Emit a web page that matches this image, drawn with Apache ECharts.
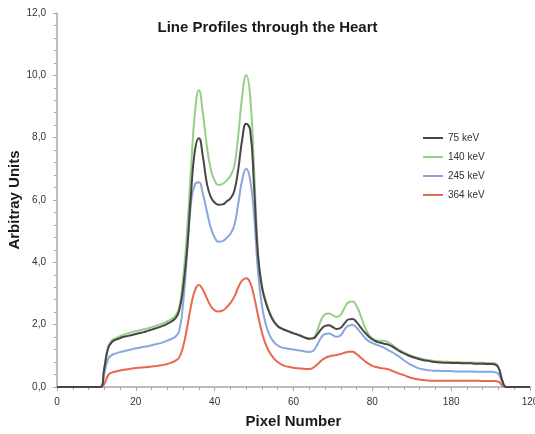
<!DOCTYPE html>
<html>
<head>
<meta charset="utf-8">
<script src="https://cdn.jsdelivr.net/npm/echarts@6/dist/echarts.min.js"></script>
<style>
  html, body { margin: 0; padding: 0; background: #fff; }
  #chart { width: 535px; height: 434px; }
</style>
</head>
<body>
<div id="chart"></div>
<script>
// Pixel positions sampled along the profile line
const pixels = [
  0,
  11, 12, 13, 14, 15, 16, 17, 18, 19, 20,
  21, 22, 23, 24, 25, 26, 27, 28, 29, 30,
  31, 32, 33, 34, 35, 36, 37, 38, 39, 40,
  41, 42, 43, 44, 45, 46, 47, 48, 49, 50,
  51, 52, 53, 54, 55, 56, 57, 58, 59, 60,
  61, 62, 63, 64, 65, 66, 67, 68, 69, 70,
  71, 72, 73, 74, 75, 76, 77, 78, 79, 80,
  81, 82, 83, 84, 85, 86, 87, 88, 89, 90,
  91, 92, 93, 94, 95, 96, 97, 98, 99, 100,
  101, 102, 103, 104, 105, 106, 107, 108, 109, 110,
  111, 112, 113, 114,
  120
];

const kev75 = [
  0,
  0, 0.6, 1.25, 1.45, 1.52, 1.57, 1.61, 1.64, 1.67, 1.70,
  1.73, 1.76, 1.80, 1.84, 1.88, 1.92, 1.97, 2.03, 2.10, 2.20,
  2.45, 3.2, 4.4, 6.2, 7.6, 7.98, 7.4, 6.55, 6.1, 5.92,
  5.85, 5.86, 5.95, 6.05, 6.3, 7.0, 7.95, 8.45, 8.25, 6.4,
  4.2, 3.2, 2.7, 2.35, 2.1, 1.95, 1.87, 1.82, 1.77, 1.72,
  1.68, 1.63, 1.58, 1.55, 1.56, 1.68, 1.85, 1.96, 1.98, 1.92,
  1.86, 1.9, 2.05, 2.17, 2.18, 2.08, 1.92, 1.76, 1.63, 1.53,
  1.46, 1.42, 1.39, 1.36, 1.3, 1.22, 1.14, 1.08, 1.02, 0.97,
  0.93, 0.89, 0.86, 0.84, 0.82, 0.8, 0.79, 0.78, 0.78, 0.77,
  0.77, 0.77, 0.76, 0.76, 0.76, 0.75, 0.75, 0.75, 0.74, 0.74,
  0.73, 0.62, 0.2, 0,
  0
];

const kev140 = [
  0,
  0, 0.62, 1.3, 1.5, 1.57, 1.63, 1.68, 1.72, 1.76, 1.79,
  1.82, 1.85, 1.88, 1.92, 1.96, 2.0, 2.05, 2.11, 2.18, 2.28,
  2.55, 3.5, 5.0, 7.0, 8.8, 9.52, 8.8, 7.75, 7.0, 6.62,
  6.48, 6.52, 6.62, 6.78, 7.1, 8.1, 9.35, 10.0, 9.35, 7.0,
  4.3, 3.25, 2.75, 2.38, 2.13, 1.97, 1.89, 1.83, 1.78, 1.73,
  1.69, 1.64, 1.59, 1.56, 1.58, 1.8, 2.15, 2.33, 2.36, 2.3,
  2.25, 2.32, 2.55, 2.72, 2.74, 2.6, 2.3, 1.95, 1.7, 1.56,
  1.5, 1.48, 1.48, 1.44, 1.35, 1.26, 1.18, 1.11, 1.05, 1.0,
  0.96, 0.92, 0.89, 0.87, 0.85, 0.83, 0.82, 0.81, 0.81, 0.8,
  0.8, 0.8, 0.79, 0.79, 0.79, 0.78, 0.78, 0.78, 0.77, 0.77,
  0.76, 0.64, 0.2, 0,
  0
];

const kev245 = [
  0,
  0, 0.45, 0.9, 1.03, 1.08, 1.12, 1.15, 1.18, 1.21, 1.24,
  1.26, 1.29, 1.31, 1.34, 1.37, 1.4, 1.44, 1.49, 1.54, 1.61,
  1.8, 2.7, 4.3, 5.9, 6.5, 6.57, 6.2, 5.65, 5.12, 4.8,
  4.66, 4.68, 4.78, 4.92, 5.2, 5.9, 6.65, 7.0, 6.65, 5.5,
  3.7, 2.6, 2.0, 1.65, 1.45, 1.33, 1.27, 1.24, 1.22, 1.2,
  1.18, 1.16, 1.14, 1.12, 1.16, 1.35, 1.58, 1.7, 1.72, 1.66,
  1.61, 1.66, 1.85, 1.97, 1.99, 1.9, 1.75, 1.6, 1.48, 1.41,
  1.36, 1.31, 1.26, 1.18, 1.12, 1.04, 0.96, 0.86, 0.77, 0.7,
  0.64, 0.59, 0.56, 0.54, 0.53, 0.52, 0.52, 0.51, 0.51, 0.51,
  0.5, 0.5, 0.5, 0.5, 0.5, 0.49, 0.49, 0.49, 0.49, 0.49,
  0.48, 0.42, 0.15, 0,
  0
];

const kev364 = [
  0,
  0, 0.1, 0.38, 0.47, 0.5, 0.53, 0.55, 0.57, 0.59, 0.61,
  0.62, 0.63, 0.64, 0.66, 0.67, 0.69, 0.71, 0.74, 0.78, 0.84,
  0.95, 1.3, 1.9, 2.6, 3.1, 3.27, 3.12, 2.85, 2.6, 2.46,
  2.42, 2.45, 2.55, 2.7, 2.9, 3.2, 3.42, 3.49, 3.35, 2.9,
  2.3, 1.75, 1.35, 1.1, 0.92, 0.8, 0.72, 0.67, 0.64, 0.62,
  0.6, 0.59, 0.58, 0.58, 0.62, 0.72, 0.84, 0.93, 0.98, 1.01,
  1.03, 1.06, 1.1, 1.13, 1.13, 1.06, 0.95, 0.84, 0.75, 0.68,
  0.64, 0.61, 0.59, 0.57, 0.52, 0.47, 0.42, 0.38, 0.33, 0.29,
  0.26, 0.24, 0.22, 0.21, 0.2, 0.2, 0.2, 0.2, 0.2, 0.2,
  0.2, 0.2, 0.2, 0.2, 0.2, 0.2, 0.2, 0.19, 0.19, 0.19,
  0.19, 0.17, 0.05, 0,
  0
];

const seriesNames = ['75 keV', '140 keV', '245 keV', '364 keV'];
const xTickLabels = ['0', '20', '40', '60', '80', '180', '120'];
const yTickLabels = ['0,0', '2,0', '4,0', '6,0', '8,0', '10,0', '12,0'];

const FONT = '"Liberation Sans", Arial, Helvetica, sans-serif';
const AXIS_COLOR = '#b3a3a3';

function pairs(ys) {
  return pixels.map((x, i) => [x, ys[i]]);
}

function lineSeries(name, ys, color, width, z) {
  return {
    name: name,
    type: 'line',
    data: pairs(ys),
    showSymbol: false,
    symbol: 'none',
    smooth: 0.5,
    z: z,
    lineStyle: { color: color, width: width },
    itemStyle: { color: color }
  };
}

const chart = echarts.init(document.getElementById('chart'), null, { renderer: 'canvas' });

chart.setOption({
  animation: false,
  backgroundColor: '#ffffff',
  textStyle: { fontFamily: FONT },
  title: {
    text: 'Line Profiles through the Heart',
    left: 'center',
    top: 15,
    textStyle: { fontFamily: FONT, fontSize: 15, fontWeight: 'bold', color: '#1a1a1a' }
  },
  legend: {
    orient: 'vertical',
    left: 418,
    top: 128,
    itemWidth: 20,
    itemHeight: 2,
    itemGap: 9,
    icon: 'rect',
    data: seriesNames,
    textStyle: { fontFamily: FONT, fontSize: 10, color: '#333' }
  },
  grid: { left: 57, right: 5, top: 13, bottom: 47, containLabel: false, outerBoundsMode: 'none' },
  xAxis: {
    type: 'value',
    min: 0,
    max: 120,
    interval: 20,
    name: 'Pixel Number',
    nameLocation: 'middle',
    nameGap: 27,
    nameMoveOverlap: false,
    nameTextStyle: { fontFamily: FONT, fontSize: 15, fontWeight: 'bold', color: '#1a1a1a' },
    axisLine: { show: true, lineStyle: { color: AXIS_COLOR, width: 1.5 } },
    axisTick: { show: true, length: 4, lineStyle: { color: AXIS_COLOR } },
    minorTick: { show: true, splitNumber: 5, length: 3, lineStyle: { color: AXIS_COLOR } },
    splitLine: { show: false },
    axisLabel: {
      fontFamily: FONT, fontSize: 10, color: '#333', margin: 10,
      hideOverlap: false,
      formatter: v => xTickLabels[Math.round(v / 20)]
    }
  },
  yAxis: {
    type: 'value',
    min: 0,
    max: 12,
    interval: 2,
    name: 'Arbitray Units',
    nameLocation: 'middle',
    nameGap: 35,
    nameMoveOverlap: false,
    nameRotate: 90,
    nameTextStyle: { fontFamily: FONT, fontSize: 15, fontWeight: 'bold', color: '#1a1a1a' },
    axisLine: { show: true, lineStyle: { color: AXIS_COLOR, width: 1.5 } },
    axisTick: { show: true, length: 4, lineStyle: { color: AXIS_COLOR } },
    minorTick: { show: true, splitNumber: 5, length: 3, lineStyle: { color: AXIS_COLOR } },
    splitLine: { show: false },
    axisLabel: {
      fontFamily: FONT, fontSize: 10, color: '#333', margin: 11,
      formatter: v => yTickLabels[Math.round(v / 2)]
    }
  },
  series: [
    lineSeries(seriesNames[0], kev75, '#4a4447', 2, 4),
    lineSeries(seriesNames[1], kev140, '#95cf88', 2, 3),
    lineSeries(seriesNames[2], kev245, '#87a7dd', 2, 2),
    lineSeries(seriesNames[3], kev364, '#e9684d', 2, 1)
  ]
});
</script>
</body>
</html>
